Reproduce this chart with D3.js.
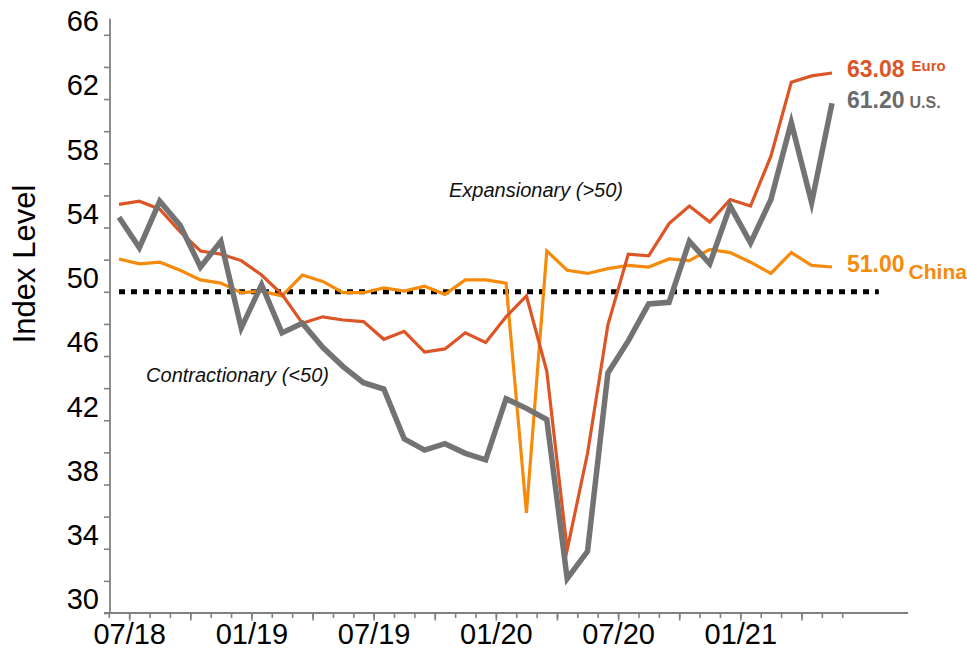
<!DOCTYPE html>
<html>
<head>
<meta charset="utf-8">
<script src="https://cdn.jsdelivr.net/npm/d3@7"></script>
<style>
  body { margin: 0; background: #ffffff; }
  svg text { font-family: "Liberation Sans", Arial, Helvetica, sans-serif; }
</style>
</head>
<body>
<svg id="chart" width="967" height="649"></svg>
<script>
// Monthly manufacturing PMI readings, June 2018 – May 2021
const months = [
  "2018-06","2018-07","2018-08","2018-09","2018-10","2018-11","2018-12",
  "2019-01","2019-02","2019-03","2019-04","2019-05","2019-06","2019-07","2019-08","2019-09","2019-10","2019-11","2019-12",
  "2020-01","2020-02","2020-03","2020-04","2020-05","2020-06","2020-07","2020-08","2020-09","2020-10","2020-11","2020-12",
  "2021-01","2021-02","2021-03","2021-04","2021-05"
];

const euro = [54.9,55.1,54.6,53.2,52.0,51.8,51.4,50.5,49.3,47.5,47.9,47.7,47.6,46.5,47.0,45.7,45.9,46.9,46.3,
              47.9,49.2,44.5,33.4,39.4,47.4,51.8,51.7,53.7,54.8,53.8,55.2,54.8,57.9,62.5,62.9,63.08];

const us = [54.1,52.2,55.1,53.6,51.0,52.6,47.2,49.9,46.9,47.5,46.0,44.8,43.8,43.4,40.3,39.6,40.0,39.4,39.0,
            42.8,42.2,41.5,31.6,33.3,44.4,46.4,48.7,48.8,52.6,51.2,54.8,52.5,55.2,60.0,55.0,61.2];

const china = [51.5,51.2,51.3,50.8,50.2,50.0,49.4,49.5,49.2,50.5,50.1,49.4,49.4,49.7,49.5,49.8,49.3,50.2,50.2,
               50.0,35.7,52.0,50.8,50.6,50.9,51.1,51.0,51.5,51.4,52.1,51.9,51.3,50.6,51.9,51.1,51.0];

const seriesNames = ["Euro", "U.S.", "China"];
const yTickLabels = [30, 34, 38, 42, 46, 50, 54, 58, 62, 66];
const xTickLabels = ["07/18", "01/19", "07/19", "01/20", "07/20", "01/21"];
const threshold = 50;

const svg = d3.select("#chart");

const x = d3.scaleLinear().domain([0, months.length - 1]).range([119, 832]);
const y = d3.scaleLinear().domain([30, 66]).range([604.3, 26.1]);

// axis frame sits slightly below the plotted lines
const frameOffset = 8.7;
const axisX = 110;
const frame = svg.append("g").attr("transform", `translate(0,${frameOffset})`);

// ---- y axis ----
const yAxis = d3.axisLeft(y)
  .tickValues(d3.range(30, 67, 2))
  .tickSize(6)
  .tickSizeOuter(0)
  .tickFormat(d => yTickLabels.includes(d) ? d : "");

const gy = frame.append("g").attr("transform", `translate(${axisX},0)`).call(yAxis);
gy.select(".domain").remove();
gy.selectAll(".tick line").attr("stroke", "#808080").attr("stroke-width", 1.6);
gy.selectAll(".tick text")
  .attr("x", -11)
  .attr("y", -13.5)
  .attr("fill", "#000")
  .style("font-size", "29px");

frame.append("line")
  .attr("x1", axisX).attr("x2", axisX)
  .attr("y1", y(67)).attr("y2", y(30))
  .attr("stroke", "#808080").attr("stroke-width", 1.8);

// ---- x axis ----
const monthIndex = label => {
  const [mm, yy] = label.split("/");
  return months.indexOf(`20${yy}-${mm}`);
};
const boundaries = d3.range(-0.5, months.length, 1);
const quarterStarts = boundaries.filter(b => {
  const m = +months[0].slice(5) - 1 + (b + 0.5);
  return ((m % 3) + 3) % 3 === 0;
});

const gxMinor = frame.append("g")
  .attr("transform", `translate(0,${y(30)})`)
  .call(d3.axisBottom(x).tickValues(boundaries).tickSize(5).tickSizeOuter(0).tickFormat(""));
gxMinor.select(".domain").remove();
gxMinor.selectAll(".tick line").attr("stroke", "#808080").attr("stroke-width", 1.6);

const gxMajor = frame.append("g")
  .attr("transform", `translate(0,${y(30)})`)
  .call(d3.axisBottom(x).tickValues(quarterStarts).tickSize(7.5).tickSizeOuter(0).tickFormat(""));
gxMajor.select(".domain").remove();
gxMajor.selectAll(".tick line").attr("stroke", "#808080").attr("stroke-width", 1.6);

const gxLabels = frame.append("g")
  .attr("transform", `translate(0,${y(30)})`)
  .call(d3.axisBottom(x)
    .tickValues(xTickLabels.map(l => monthIndex(l) - 0.5))
    .tickSize(0).tickSizeOuter(0)
    .tickFormat((d, i) => xTickLabels[i]));
gxLabels.select(".domain").remove();
gxLabels.selectAll(".tick text")
  .attr("y", 10)
  .attr("fill", "#000")
  .style("font-size", "29px");

frame.append("line")
  .attr("x1", 104).attr("x2", 908)
  .attr("y1", y(30)).attr("y2", y(30))
  .attr("stroke", "#808080").attr("stroke-width", 1.8);

// 50 = expansion / contraction threshold
frame.append("line")
  .attr("x1", x(0)).attr("x2", x(37.3))
  .attr("y1", y(threshold)).attr("y2", y(threshold))
  .attr("stroke", "#000").attr("stroke-width", 5)
  .attr("stroke-dasharray", "6,6");

// ---- series lines ----
const line = d3.line().x((d, i) => x(i)).y(d => y(d));
const series = [
  { name: seriesNames[0], values: euro,  color: "#DC5526", width: 3.2, text: "#DC5526", nameSize: 15, nameDy: -6, nameDx: 7 },
  { name: seriesNames[1], values: us,    color: "#737373", width: 5.5, text: "#6B6B6B", nameSize: 16, nameDy: 0,  nameDx: 5 },
  { name: seriesNames[2], values: china, color: "#F68A0A", width: 3.2, text: "#F68A0A", nameSize: 21, nameDy: 7,  nameDx: 4 }
];

// draw China first, then Euro, with U.S. on top
[series[2], series[0], series[1]].forEach(s => {
  svg.append("path")
    .datum(s.values)
    .attr("d", line)
    .attr("fill", "none")
    .attr("stroke", s.color)
    .attr("stroke-width", s.width)
    .attr("stroke-linejoin", "miter")
    .attr("stroke-miterlimit", 10);
});

// latest-reading labels at the line ends
series.forEach(s => {
  const last = s.values.length - 1;
  const t = svg.append("text")
    .attr("x", x(last) + 15)
    .attr("y", y(s.values[last]) + 4.5)
    .attr("fill", s.text)
    .style("font-weight", "bold");
  t.append("tspan")
    .style("font-size", "23px")
    .text(d3.format(".2f")(s.values[last]));
  t.append("tspan")
    .attr("dx", s.nameDx)
    .attr("dy", s.nameDy)
    .style("font-size", s.nameSize + "px")
    .text(s.name);
});

// region annotations
svg.append("text")
  .attr("x", 536).attr("y", 196.5)
  .attr("text-anchor", "middle")
  .style("font-size", "20px").style("font-style", "italic")
  .attr("fill", "#111")
  .text("Expansionary (>50)");

svg.append("text")
  .attr("x", 237.5).attr("y", 382)
  .attr("text-anchor", "middle")
  .style("font-size", "20px").style("font-style", "italic")
  .attr("fill", "#111")
  .text("Contractionary (<50)");

// y-axis title
svg.append("text")
  .attr("transform", "translate(35,264) rotate(-90)")
  .attr("text-anchor", "middle")
  .style("font-size", "31px")
  .attr("fill", "#000")
  .text("Index Level");
</script>
</body>
</html>
